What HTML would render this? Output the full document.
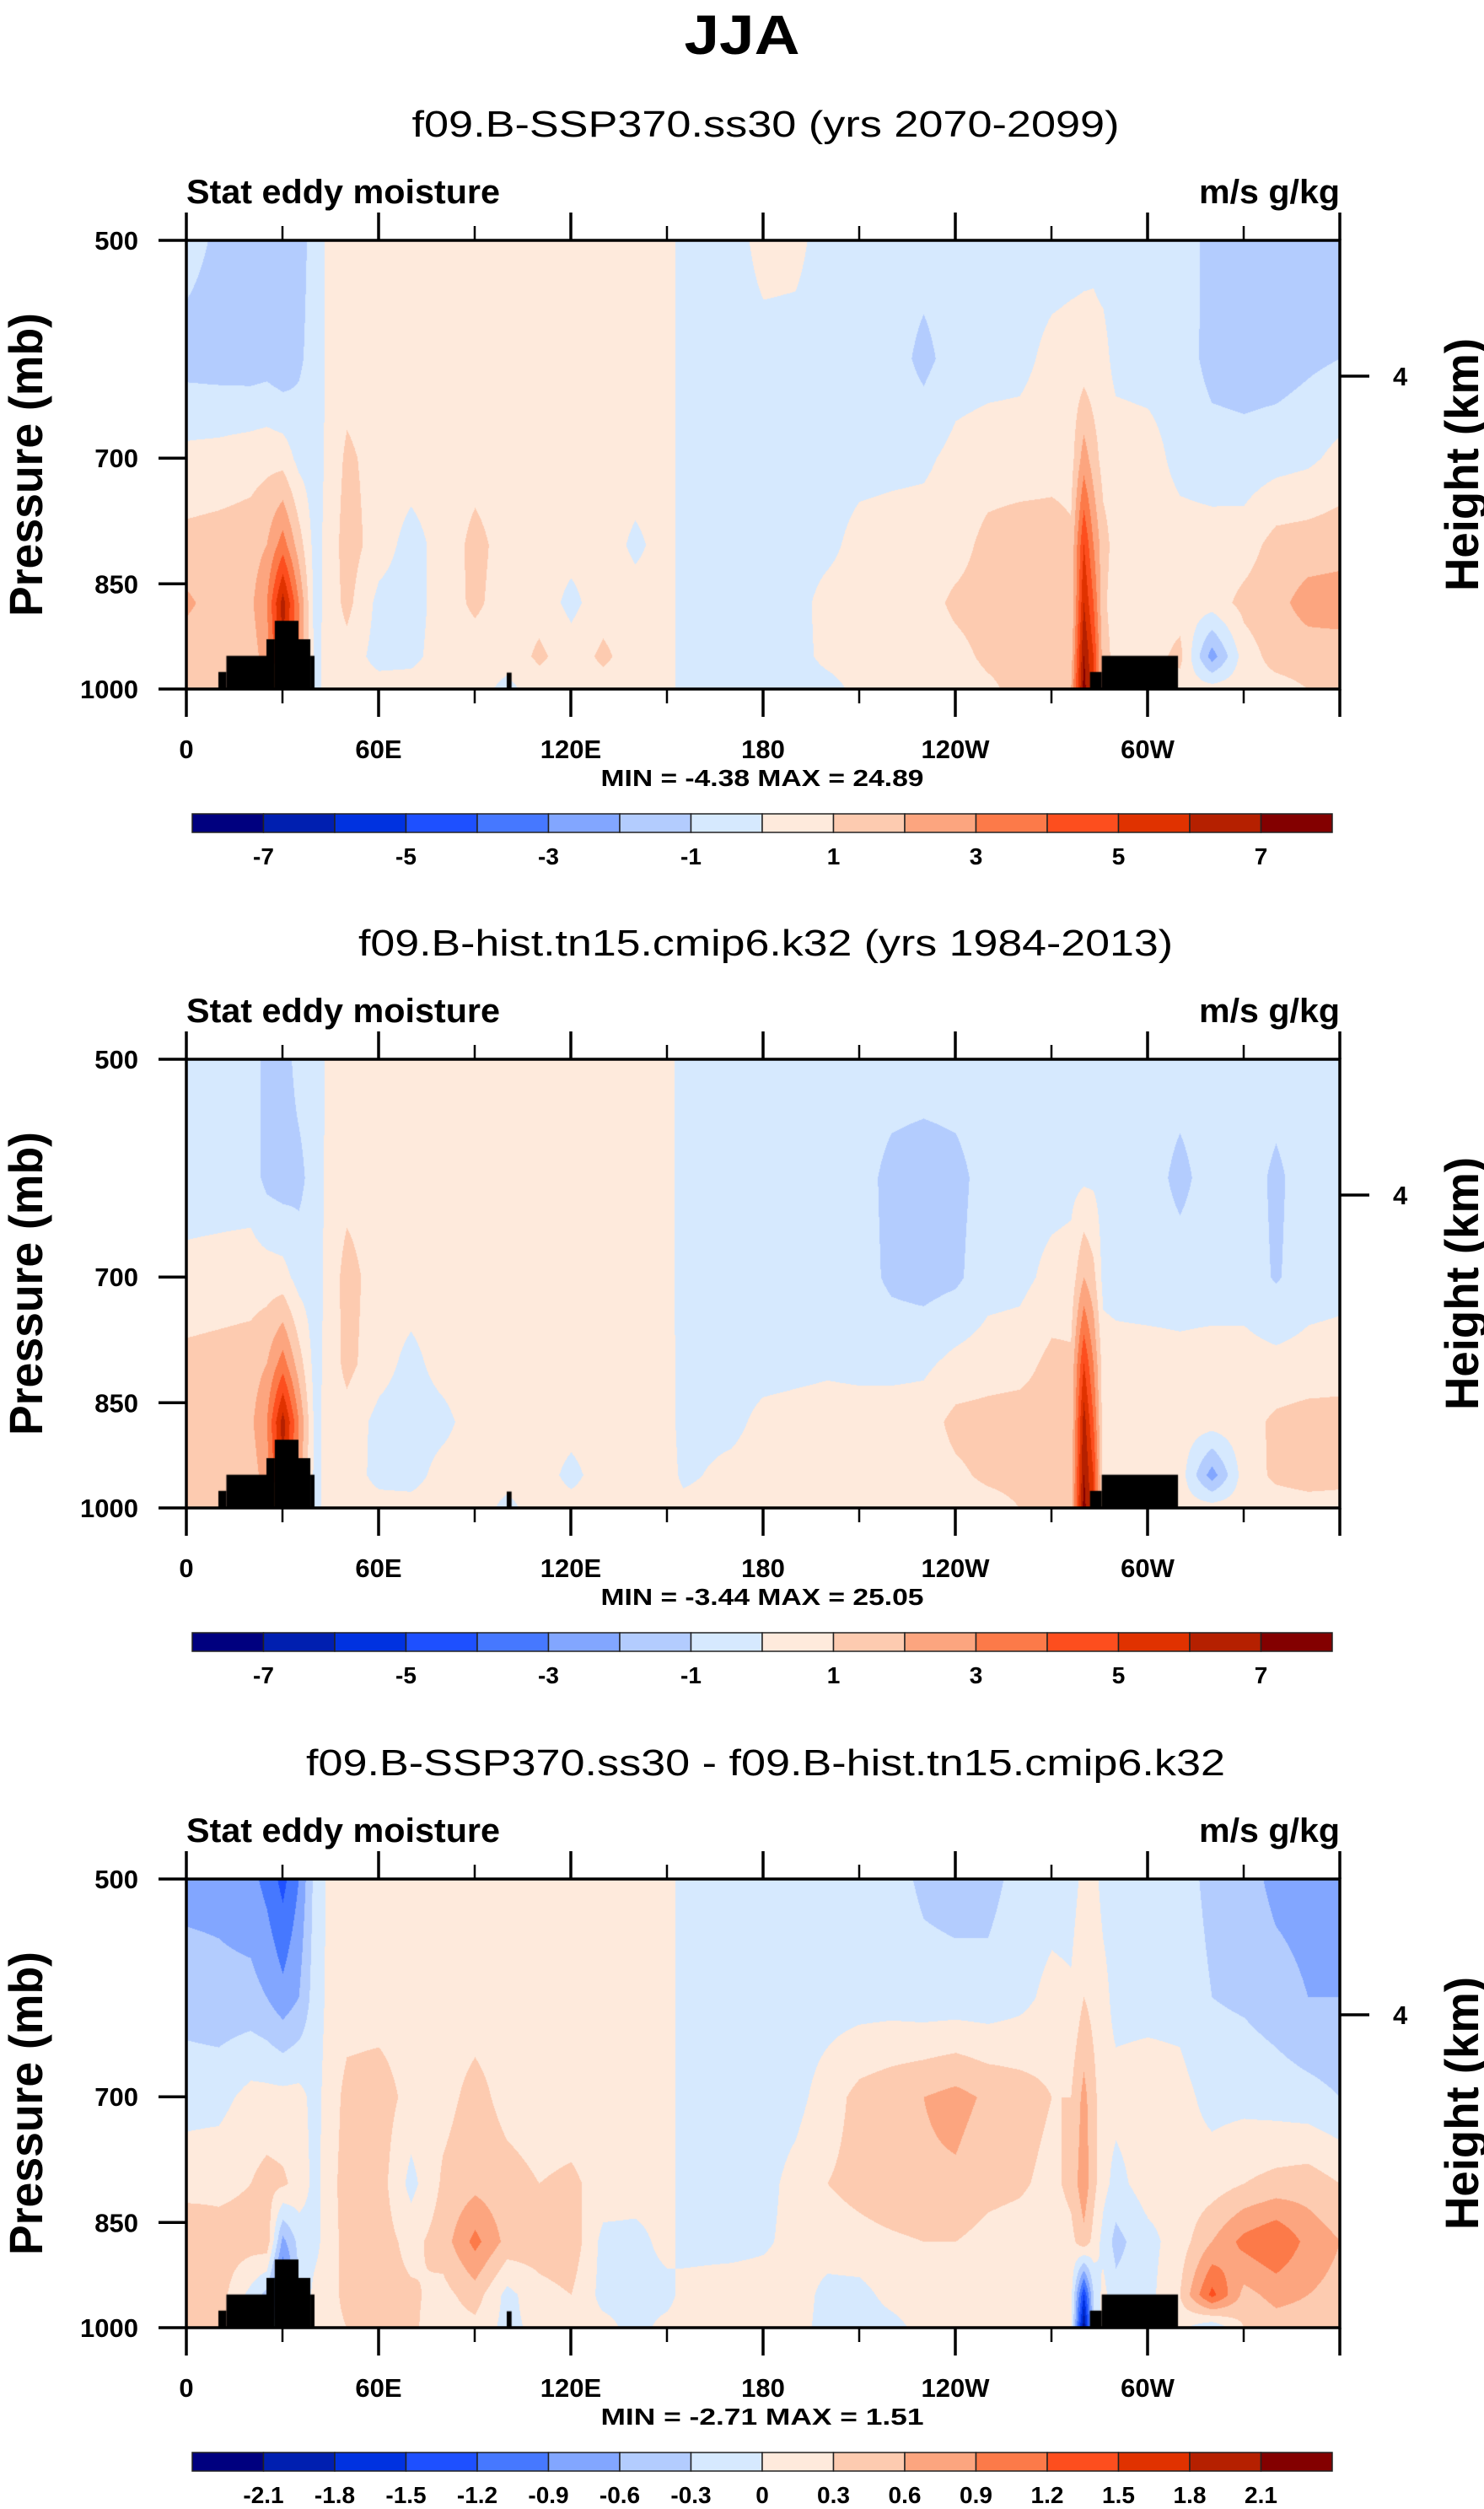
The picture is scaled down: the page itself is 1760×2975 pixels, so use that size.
<!DOCTYPE html>
<html><head><meta charset="utf-8">
<style>
html,body{margin:0;padding:0;background:#fff;}
#root{position:relative;width:1760px;height:2975px;overflow:hidden;background:#fff;}
canvas{position:absolute;}
svg{position:absolute;left:0;top:0;}
text{font-family:"Liberation Sans",Arial,sans-serif;fill:#000;}
</style></head>
<body>
<div id="root">
<canvas id="c0" width="1368" height="532" style="left:221px;top:285px"></canvas>
<canvas id="c1" width="1368" height="532" style="left:221px;top:1256px"></canvas>
<canvas id="c2" width="1368" height="532" style="left:221px;top:2228px"></canvas>
<svg id="ov" width="1760" height="2975"></svg>
</div>
<script>
// ---- data ----
const lons = [0,10,20,25,30,35,40,45,50,60,70,80,90,100,110,120,130,140,150,155,170,180,190,200,210,220,230,240,250,260,270,276,280,283,286,290,300,310,320,330,340,350,360];
const levels = [500,600,700,800,875,950,1000];
const field1 = [
[-0.6,-1.4,0.3,1.3,2.2,1.4,1.6],[-1.2,-1.5,0.4,1.4,1.5,1.5,1.5],[-1.5,-1.6,0.6,1.5,1.8,1.5,1.5],[-1.6,-1.5,0.7,2,3,2.5,2],
[-2,-1.8,0.6,3.5,6.5,6,5],[-1.5,-1.2,-0.3,1.5,3,3,2],[-0.5,-0.5,-0.5,-0.4,-0.4,-0.3,-0.3],[0.3,0.3,0.4,0.5,0.5,0.5,0.5],
[0.5,0.5,1.2,1.5,1.3,0.6,0.5],[0.5,0.5,0.6,0.5,-0.3,-0.4,0.5],[0.5,0.5,0.5,-0.4,-0.5,-0.3,0.5],[0.5,0.5,0.5,0.4,0.5,0.5,0.5],
[0.5,0.5,0.6,1.3,1.2,0.5,0.4],[0.5,0.5,0.5,0.6,0.5,0.4,-0.3],[0.5,0.5,0.5,0.4,0.6,1.2,0.5],[0.5,0.5,0.5,0.4,-0.3,0.5,0.4],
[0.5,0.5,0.5,0.5,0.6,1.2,0.6],[0.5,0.5,0.5,-0.2,0.4,0.5,0.5],[0.4,0.4,0.4,0.4,0.4,0.4,0.4],[-0.4,-0.4,-0.4,-0.4,-0.4,-0.4,-0.4],
[-0.5,-0.5,-0.5,-0.5,-0.5,-0.5,-0.5],[0.4,-0.4,-0.5,-0.5,-0.5,-0.5,-0.5],[0.3,-0.4,-0.5,-0.5,-0.4,-0.4,-0.5],[-0.5,-0.5,-0.5,-0.3,0.4,0.3,-0.4],
[-0.5,-0.5,-0.4,0.4,0.5,0.5,0.3],[-0.5,-0.5,-0.3,0.5,0.5,0.5,0.5],[-0.5,-1.3,-0.2,0.5,0.6,0.5,0.5],[-0.5,-0.5,0.3,0.6,1.2,0.7,0.5],
[-0.5,-0.4,0.5,1.3,1.4,1.2,0.8],[-0.5,-0.3,0.5,1.5,1.5,1.3,1.3],[-0.5,0.3,0.6,1.5,1.5,1.4,2],[-0.4,0.4,0.6,1.2,1.0,1.5,2],
[-0.3,0.4,2.5,5,6,7,7.5],[-0.2,0.3,1.5,3,4,5,5],[-0.4,0.3,0.6,1.4,1.2,1.5,1.5],[-0.5,-0.3,0.5,0.6,0.5,0.6,0.5],
[-0.5,-0.4,0.4,0.5,0.5,0.5,0.5],[-0.5,-0.4,-0.3,0.4,0.5,1.3,0.5],[-1.3,-1.4,-0.5,0.4,0.5,-2.5,0.5],[-1.5,-1.5,-0.6,0.5,1.3,0.5,0.6],
[-1.5,-1.5,-0.4,1.4,1.7,1.4,0.6],[-1.5,-1.2,-0.2,1.5,2.4,1.5,1],[-1.4,-1,0.3,1.6,2.5,1.5,1]];
const field2 = [
[-0.5,-0.5,0.3,1.3,1.4,1.4,1.4],[-0.5,-0.5,0.4,1.4,1.5,1.5,1.5],[-0.5,-0.5,0.5,1.5,1.8,1.5,1.5],[-1.3,-1.3,0.5,2,3,2.5,2],
[-1.5,-1.5,0.4,3.5,6.5,6,5],[-0.6,-1.3,-0.4,1.5,3,2.5,2],[-0.5,-0.5,-0.5,-0.4,-0.3,-0.3,-0.3],[0.3,0.4,0.5,0.5,0.5,0.5,0.5],
[0.5,0.6,1.4,1.3,0.6,0.5,0.5],[0.5,0.5,0.5,0.4,-0.3,-0.3,0.4],[0.5,0.5,0.5,-0.3,-0.5,-0.4,0.4],[0.5,0.5,0.5,0.4,-0.3,0.4,0.5],
[0.5,0.5,0.5,0.6,0.5,0.5,0.5],[0.5,0.5,0.5,0.5,0.5,0.4,-0.3],[0.5,0.5,0.5,0.5,0.5,0.5,0.5],[0.5,0.5,0.5,0.5,0.4,-0.3,0.4],
[0.5,0.5,0.5,0.5,0.5,0.5,0.5],[0.5,0.5,0.5,0.5,0.5,0.5,0.4],[0.3,0.3,0.3,0.3,0.3,0.4,0.4],[-0.4,-0.4,-0.4,-0.3,-0.3,-0.2,0.3],
[-0.5,-0.5,-0.5,-0.4,-0.3,0.3,0.4],[-0.5,-0.5,-0.5,-0.4,0.3,0.5,0.5],[-0.5,-0.5,-0.5,-0.3,0.4,0.5,0.5],[-0.5,-0.5,-0.5,-0.2,0.5,0.5,0.5],
[-0.5,-0.6,-0.6,-0.3,0.5,0.5,0.5],[-0.5,-1.3,-1.2,-0.3,0.5,0.5,0.5],[-0.5,-1.5,-1.4,-0.2,0.5,0.5,0.5],[-0.5,-1.3,-1.2,0.3,1.3,0.8,0.5],
[-0.5,-0.6,-0.4,0.5,1.4,1.2,0.6],[-0.5,-0.4,-0.3,0.6,1.5,1.3,1],[-0.5,-0.4,0.3,1.3,1.5,1.3,1.3],[-0.4,-0.3,0.4,1.2,1.2,1.4,1.5],
[-0.3,-0.2,2,5,6.5,7,7.5],[-0.3,-0.2,1.3,3,4,5,5],[-0.5,-0.4,-0.3,0.5,0.5,0.5,0.5],[-0.5,-0.5,-0.4,0.4,0.5,0.5,0.5],
[-0.5,-0.5,-0.5,0.4,0.5,0.5,0.5],[-0.5,-1.3,-0.5,0.3,0.5,0.5,0.5],[-0.5,-0.5,-0.5,0.4,0.5,-2.5,0.5],[-0.5,-0.5,-0.5,0.4,0.6,0.5,0.5],
[-0.5,-1.2,-1.1,0.3,1.2,1.2,0.5],[-0.5,-0.5,-0.5,0.4,1.4,1.4,0.6],[-0.5,-0.5,-0.4,0.5,1.4,1.3,0.6]];
const field3 = [
[-0.7,-0.45,-0.1,0.15,0.6,0.45,0.45],[-0.7,-0.5,-0.1,0.2,0.45,0.45,0.4],[-0.8,-0.5,0.1,0.3,0.45,-0.1,0.3],[-1.0,-0.6,0.1,0.4,0.5,-0.4,0.3],
[-1.3,-0.8,0.1,0.35,-0.7,-1.4,-0.5],[-0.9,-0.6,0.1,0.2,-0.2,-0.3,0.1],[-0.2,-0.15,-0.1,-0.1,-0.1,0.1,0.1],[0.1,0.1,0.15,0.2,0.2,0.2,0.2],
[0.15,0.15,0.4,0.45,0.4,0.4,0.3],[0.15,0.15,0.45,0.45,0.45,0.4,0.35],[0.15,0.15,0.2,-0.1,0.2,0.35,0.35],[0.15,0.15,0.2,0.35,0.45,0.2,0.15],
[0.15,0.15,0.4,0.5,1.0,0.45,0.2],[0.15,0.15,0.2,0.4,0.5,-0.1,-0.1],[0.15,0.15,0.15,0.3,0.45,0.2,0.1],[0.15,0.15,0.15,0.35,0.5,0.3,0.1],
[0.15,0.15,0.15,0.2,-0.1,-0.1,0.1],[0.15,0.15,0.15,0.15,-0.1,-0.1,-0.1],[0.1,0.1,0.1,0.1,0.1,-0.1,0.1],[-0.1,-0.1,-0.1,-0.1,-0.1,0.1,0.15],
[-0.15,-0.15,-0.15,-0.1,-0.1,0.15,0.2],[-0.15,-0.15,-0.15,-0.1,-0.05,0.15,0.2],[-0.15,-0.15,-0.1,0.1,0.1,0.15,0.1],[-0.15,-0.15,0.15,0.3,0.15,-0.1,-0.1],
[-0.15,-0.15,0.4,0.4,0.2,-0.1,-0.15],[-0.2,-0.15,0.5,0.5,0.25,0.1,-0.1],[-0.35,-0.2,0.6,0.55,0.3,0.15,0.1],[-0.4,-0.2,0.7,0.55,0.3,0.2,0.15],
[-0.4,-0.2,0.55,0.4,0.2,0.15,0.2],[-0.2,-0.1,0.45,0.35,0.15,0.15,0.3],[-0.15,0.1,0.3,0.2,0.1,0.15,0.3],[-0.15,0.05,0.3,0.4,0.2,0.1,0.15],
[0.1,0.3,0.7,0.8,0.5,-1.5,-2.2],[0.1,0.2,0.4,0.4,0.2,-0.3,-0.3],[-0.1,0.1,0.1,0.1,-0.1,0.1,0.1],[-0.15,-0.1,0.1,-0.1,-0.4,-0.2,-0.1],
[-0.15,-0.1,0.15,0.15,-0.1,-0.1,-0.1],[-0.15,-0.1,0.1,0.1,0.15,0.3,0.1],[-0.4,-0.3,-0.1,0.15,0.6,1.3,-0.3],[-0.45,-0.35,-0.1,0.3,1.0,0.5,0.3],
[-0.7,-0.45,-0.15,0.4,1.2,0.7,0.45],[-0.75,-0.6,-0.2,0.45,0.8,0.6,0.45],[-0.75,-0.6,-0.3,0.3,0.6,0.5,0.3]];
const topoLonStart = [10,12.5,25,27.6,35,38.7,100,282,285.7];
const topoLonEnd   = [12.5,25,27.6,35,38.7,40,101.5,285.7,309.5];
const topoPres     = [974,950,926,900,926,950,975,974,950];
const colors = ['#00007f','#001fb0','#0032e0','#1e50ff','#4678ff','#82a6ff','#b3ccfe','#d6e9fe','#feeadc','#fdcbb0','#fca57f','#fc7a49','#fd4e1e','#e03200','#b52000','#830000'];
const xTickLabels = ['0','60E','120E','180','120W','60W'];
const yTickValues = [500,700,850,1000];
const cbLabels12 = ['-7','','-5','','-3','','-1','','1','','3','','5','','7'];
const cbLabels3 = ['-2.1','-1.8','-1.5','-1.2','-0.9','-0.6','-0.3','0','0.3','0.6','0.9','1.2','1.5','1.8','2.1'];
const subtitles = ['f09.B-SSP370.ss30 (yrs 2070-2099)','f09.B-hist.tn15.cmip6.k32 (yrs 1984-2013)','f09.B-SSP370.ss30 - f09.B-hist.tn15.cmip6.k32'];
const minmax = ['MIN = -4.38  MAX = 24.89','MIN = -3.44  MAX = 25.05','MIN = -2.71  MAX =  1.51'];
const levelStep = [1,1,0.3];

// ---- axes ----
const PX=221, PW=1368, PT=285, PH=532;
const offsets=[0,971,1943];
function xOf(lon){return PX+lon/360*PW;}
function yOf(p,off){return PT+off+Math.log(p/500)/Math.log(2)*PH;}

// ---- draw fields ----
[field1,field2,field3].forEach((field,k)=>{
  const cv=document.getElementById('c'+k), ctx=cv.getContext('2d');
  const img=ctx.createImageData(PW,PH);
  const rgb=colors.map(c=>[parseInt(c.substr(1,2),16),parseInt(c.substr(3,2),16),parseInt(c.substr(5,2),16)]);
  const lp=levels.map(p=>Math.log(p));
  for(let y=0;y<PH;y++){
    const L=Math.log(500)+y/PH*Math.log(2);
    let j=0; while(j<levels.length-2 && L>lp[j+1]) j++;
    const ty=Math.min(1,Math.max(0,(L-lp[j])/(lp[j+1]-lp[j])));
    for(let x=0;x<PW;x++){
      const lon=x/PW*360;
      let i=0; while(i<lons.length-2 && lon>lons[i+1]) i++;
      const tx=(lon-lons[i])/(lons[i+1]-lons[i]);
      const a=field[i][j],b=field[i+1][j],c=field[i][j+1],d=field[i+1][j+1];
      const v=(a*(1-tx)+b*tx)*(1-ty)+(c*(1-tx)+d*tx)*ty;
      let idx=Math.floor(v/levelStep[k]+8); idx=Math.max(0,Math.min(15,idx));
      const o=(y*PW+x)*4, col=rgb[idx];
      img.data[o]=col[0];img.data[o+1]=col[1];img.data[o+2]=col[2];img.data[o+3]=255;
    }
  }
  ctx.putImageData(img,0,0);
  ctx.fillStyle='#000';
  for(let t=0;t<topoPres.length;t++){
    const x0=topoLonStart[t]/360*PW, x1=topoLonEnd[t]/360*PW;
    const y0=Math.log(topoPres[t]/500)/Math.log(2)*PH;
    ctx.fillRect(x0,y0,x1-x0,PH-y0);
  }
});

// ---- svg overlay ----
const NS='http://www.w3.org/2000/svg', svg=document.getElementById('ov');
function el(tag,attrs,parent){const e=document.createElementNS(NS,tag);for(const k in attrs)e.setAttribute(k,attrs[k]);(parent||svg).appendChild(e);return e;}
function txt(s,attrs,parent){const e=el('text',attrs,parent);e.textContent=s;return e;}

const title=txt('JJA',{x:880,y:64,'text-anchor':'middle','font-size':66,'font-weight':'bold',textLength:137,lengthAdjust:'spacingAndGlyphs'});



const subW=[839,966,1090];
offsets.forEach((off,k)=>{
  const g=el('g',{});
  
  
  const st=txt(subtitles[k],{x:908,y:162+off,'text-anchor':'middle','font-size':44,textLength:subW[k],lengthAdjust:'spacingAndGlyphs'},g);
  
  
  const lt=txt('Stat eddy moisture',{x:221,y:241+off,'font-size':40,'font-weight':'bold',textLength:372,lengthAdjust:'spacingAndGlyphs'},g);
  
  
  const rt=txt('m/s g/kg',{x:1589,y:241+off,'text-anchor':'end','font-size':40,'font-weight':'bold',textLength:167,lengthAdjust:'spacingAndGlyphs'},g);
  
  
  const fr=el('rect',{x:PX,y:PT+off,width:PW,height:PH,fill:'none',stroke:'#000','stroke-width':3.5},g);
  
  
  for(let lon=0;lon<=360;lon+=30){
    const major=lon%60===0, len=major?33:17, x=xOf(lon);
    const t1=el('line',{x1:x,x2:x,y1:PT+off,y2:PT+off-len,stroke:'#000','stroke-width':major?3.5:2.5},g);
    
    
    const t2=el('line',{x1:x,x2:x,y1:PT+PH+off,y2:PT+PH+off+len,stroke:'#000','stroke-width':major?3.5:2.5},g);
    
    
  }
  xTickLabels.forEach((s,i)=>{
    const l=txt(s,{x:xOf(i*60),y:899+off,'text-anchor':'middle','font-size':31,'font-weight':'bold'},g);
    
    
  });
  yTickValues.forEach(p=>{
    const y=yOf(p,off);
    const t=el('line',{x1:PX,x2:PX-33,y1:y,y2:y,stroke:'#000','stroke-width':3.5},g);
    
    
    const l=txt(String(p),{x:164,y:y+11,'text-anchor':'end','font-size':31,'font-weight':'bold'},g);
    
    
  });
  const rtk=el('line',{x1:PX+PW,x2:PX+PW+35,y1:446+off,y2:446+off,stroke:'#000','stroke-width':3.5},g);
  
  
  const rl=txt('4',{x:1652,y:457+off,'font-size':31,'font-weight':'bold'},g);
  
  
  const yl=txt('Pressure (mb)',{x:0,y:0,'text-anchor':'middle','font-size':56,'font-weight':'bold',textLength:360,lengthAdjust:'spacingAndGlyphs',transform:`translate(50,${551+off}) rotate(-90)`},g);
  
  
  const hl=txt('Height (km)',{x:0,y:0,'text-anchor':'middle','font-size':56,'font-weight':'bold',textLength:300,lengthAdjust:'spacingAndGlyphs',transform:`translate(1753,${551+off}) rotate(-90)`},g);
  
  
  const mm=txt(minmax[k],{x:904,y:932+off,'text-anchor':'middle','font-size':28,'font-weight':'bold',textLength:383,lengthAdjust:'spacingAndGlyphs','xml:space':'preserve'},g);
  
  
  const bw=(1580-228)/16;
  colors.forEach((c,i)=>{
    const r=el('rect',{x:228+i*bw,y:965+off,width:bw,height:22,fill:c,stroke:'#222','stroke-width':1.5},g);
    
    
  });
  const labs=k===2?cbLabels3:cbLabels12;
  labs.forEach((s,i)=>{
    if(!s) return;
    const l=txt(s,{x:228+(i+1)*bw,y:1025+off,'text-anchor':'middle','font-size':28,'font-weight':'bold'},g);
    
    
  });
});
</script>
</body></html>
